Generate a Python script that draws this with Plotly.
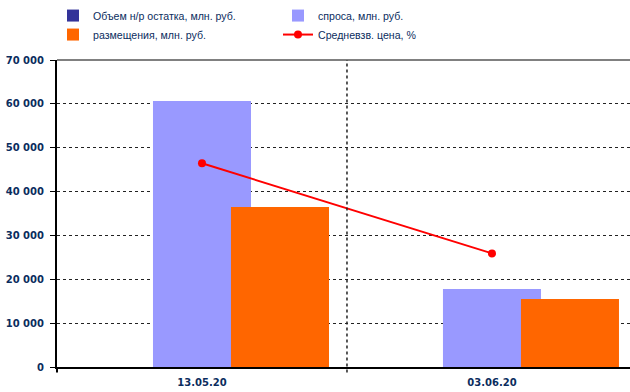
import plotly.graph_objects as go

categories = ["13.05.20", "03.06.20"]
ostatok = [0, 0]
spros = [60650, 17800]
razm = [36500, 15500]
cena = [46450, 25900]
ytick_vals = [0, 10000, 20000, 30000, 40000, 50000, 60000, 70000]
ytick_text = ["0", "10 000", "20 000", "30 000", "40 000", "50 000", "60 000", "70 000"]

NAVY = "#0B2D5E"
FONT = "DejaVu Sans"
BW = 0.338

fig = go.Figure()
fig.add_trace(go.Bar(x=categories, y=ostatok, name="Объем н/р остатка, млн. руб.",
                     marker=dict(color="#333399", line=dict(width=0)), width=BW, offset=-0.438))
fig.add_trace(go.Bar(x=categories, y=spros, name="спроса, млн. руб.",
                     marker=dict(color="#9999FF", line=dict(width=0)), width=BW, offset=-0.169))
fig.add_trace(go.Bar(x=categories, y=razm, name="размещения, млн. руб.",
                     marker=dict(color="#FF6600", line=dict(width=0)), width=BW, offset=0.1))
fig.add_trace(go.Scatter(x=categories, y=cena, name="Средневзв. цена, %", mode="lines+markers",
                         line=dict(color="#FF0000", width=2),
                         marker=dict(color="#FF0000", size=8)))

fig.update_layout(
    width=630, height=392,
    margin=dict(l=57, r=0, t=60, b=25),
    paper_bgcolor="white", plot_bgcolor="white",
    barmode="overlay",
    font=dict(family=FONT, color=NAVY),
    showlegend=True,
    legend=dict(orientation="h", x=-0.007, y=1.192, xanchor="left", yanchor="top",
                entrywidth=180, entrywidthmode="pixels",
                font=dict(family="Liberation Sans", size=10.6, color=NAVY),
                bgcolor="rgba(0,0,0,0)", traceorder="normal"),
)
fig.update_xaxes(type="category", range=[-0.5, 1.476], showgrid=False,
                 showline=True, linecolor="black", linewidth=2,
                 ticks="", ticklabelstandoff=5,
                 tickfont=dict(family=FONT, size=10, color=NAVY, weight="bold"),
                 fixedrange=True)
fig.update_yaxes(range=[0, 70000], tickvals=ytick_vals, ticktext=ytick_text,
                 showgrid=True, gridcolor="#222222", griddash="dot", gridwidth=1,
                 showline=True, linecolor="black", linewidth=2,
                 ticks="outside", ticklen=5, tickcolor="black", tickwidth=1,
                 zeroline=False, ticklabelstandoff=4,
                 tickfont=dict(family=FONT, size=10, color=NAVY, weight="bold"))

# top border of plot area
fig.add_shape(type="line", xref="paper", yref="paper", x0=0, x1=1, y0=1, y1=1,
              line=dict(color="#808080", width=2))
# category divider
fig.add_shape(type="line", xref="x", yref="paper", x0=0.5, x1=0.5, y0=-0.018, y1=1,
              line=dict(color="#222222", width=1.5, dash="dot"))
fig.add_shape(type="line", xref="paper", yref="paper", x0=0, x1=0, y0=-0.018, y1=0,
              line=dict(color="black", width=2))

fig.write_html("out.html")
